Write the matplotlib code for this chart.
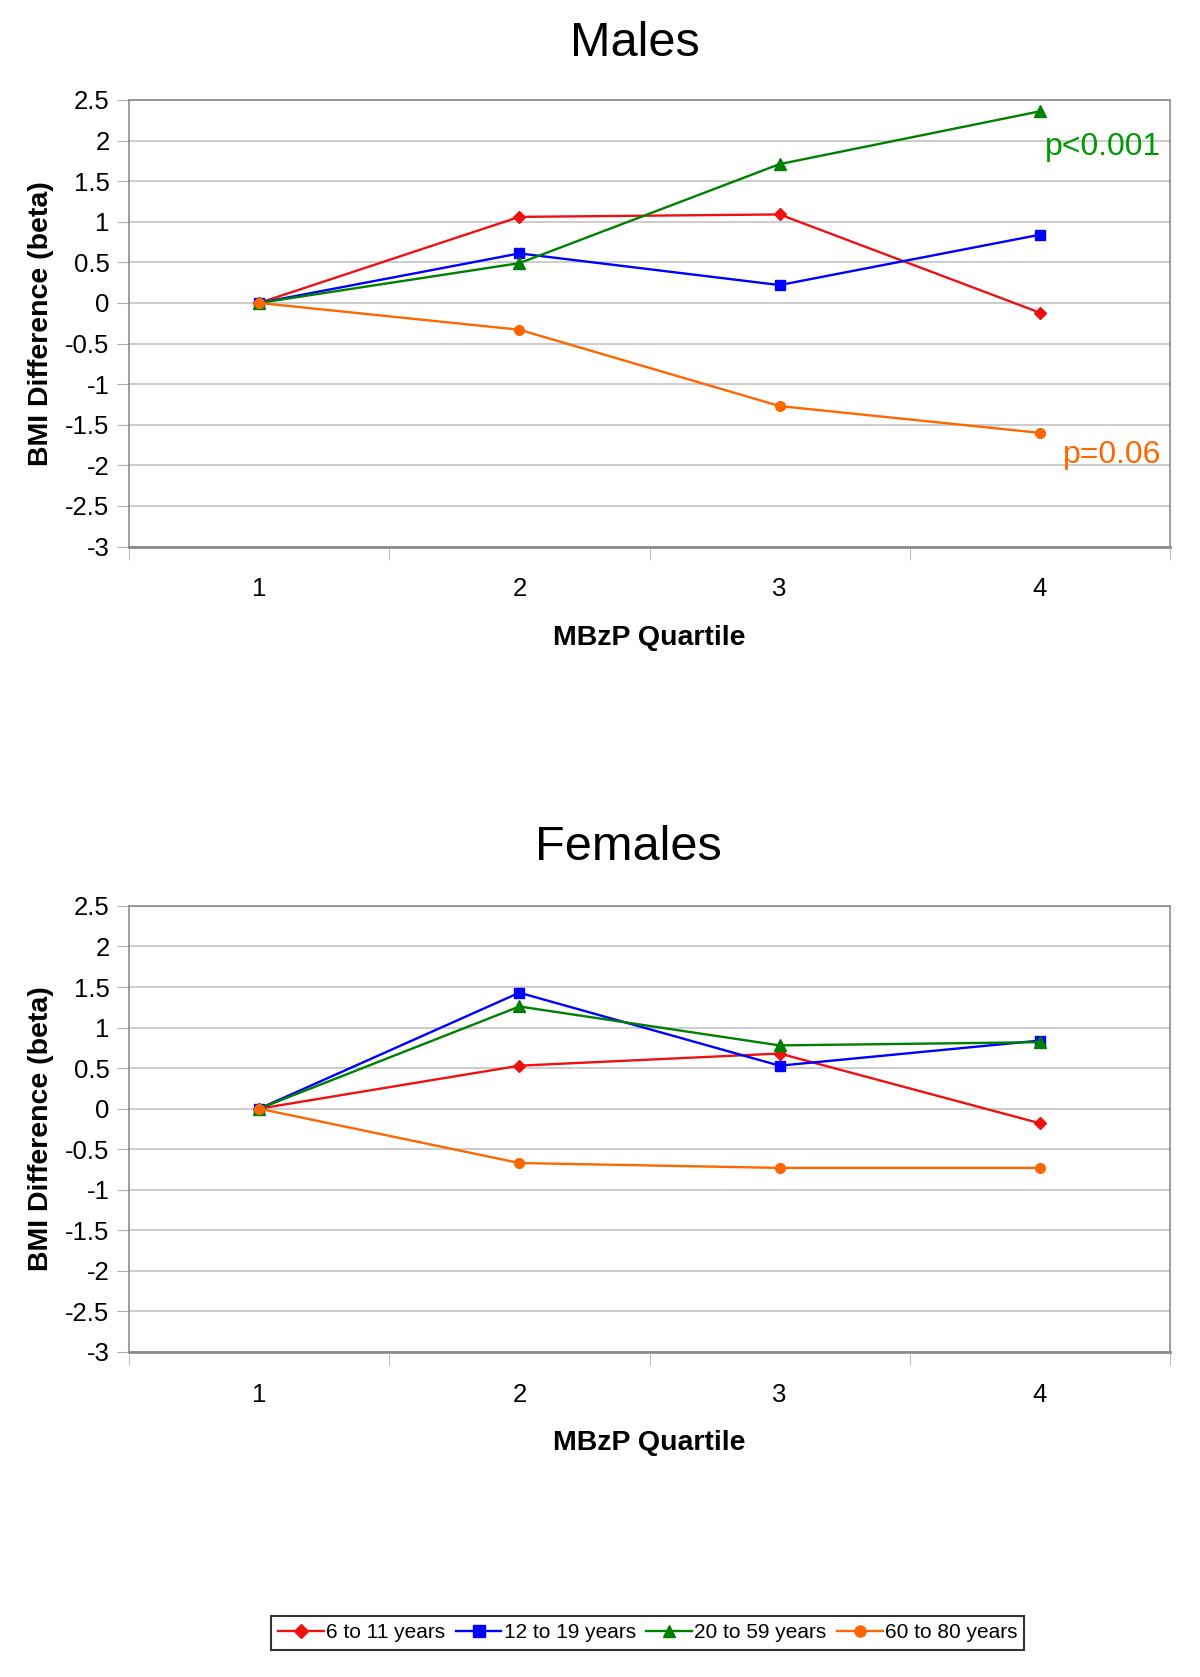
import matplotlib.pyplot as plt
from matplotlib.lines import Line2D

plt.rcParams['font.family'] = ['Liberation Sans', 'DejaVu Sans']

quartiles = [1, 2, 3, 4]
groups = ['6 to 11 years', '12 to 19 years', '20 to 59 years', '60 to 80 years']
colors = ['#ee1111', '#0000ff', '#008000', '#ff6600']
markers = ['D', 's', '^', 'o']
msizes = [6, 7, 8, 7]

males_6_11 = [0, 1.06, 1.09, -0.12]
males_12_19 = [0, 0.61, 0.22, 0.84]
males_20_59 = [0, 0.49, 1.71, 2.36]
males_60_80 = [0, -0.33, -1.27, -1.60]

females_6_11 = [0, 0.53, 0.68, -0.18]
females_12_19 = [0, 1.43, 0.53, 0.84]
females_20_59 = [0, 1.26, 0.78, 0.82]
females_60_80 = [0, -0.67, -0.73, -0.73]

males = [males_6_11, males_12_19, males_20_59, males_60_80]
females = [females_6_11, females_12_19, females_20_59, females_60_80]

yticks = [-3, -2.5, -2, -1.5, -1, -0.5, 0, 0.5, 1, 1.5, 2, 2.5]
ytick_labels = ['-3', '-2.5', '-2', '-1.5', '-1', '-0.5', '0', '0.5', '1', '1.5', '2', '2.5']

fig = plt.figure(figsize=(12, 16.77), dpi=100)
ax_m = fig.add_axes([0.1075, 0.6741, 0.8675, 0.2663])
ax_f = fig.add_axes([0.1075, 0.1938, 0.8675, 0.2660])


def style(ax, series):
    for vals, c, m, ms in zip(series, colors, markers, msizes):
        ax.plot(quartiles, vals, color=c, lw=1.7, marker=m, ms=ms,
                markerfacecolor=c, markeredgecolor=c, zorder=3)
    ax.set_xlim(0.5, 4.5)
    ax.set_ylim(-3, 2.5)
    ax.set_yticks(yticks)
    ax.set_yticklabels(ytick_labels, fontsize=18.5)
    ax.set_xticks(quartiles)
    ax.set_xticklabels([str(q) for q in quartiles], fontsize=18.5)
    ax.set_xticks([0.5, 1.5, 2.5, 3.5, 4.5], minor=True)
    ax.tick_params(axis='x', which='major', length=0, pad=22)
    ax.tick_params(axis='x', which='minor', length=9, color='#b0b0b0', direction='out')
    ax.tick_params(axis='y', length=9, color='#b0b0b0', pad=5)
    ax.grid(axis='y', color='#c4c4c4', lw=1.2, zorder=0)
    for s in ['left', 'right', 'top']:
        ax.spines[s].set_color('#8c8c8c')
        ax.spines[s].set_linewidth(1.2)
    ax.spines['bottom'].set_color('#8c8c8c')
    ax.spines['bottom'].set_linewidth(2.0)
    ax.set_xlabel('MBzP Quartile', fontsize=20.5, fontweight='bold', labelpad=17)
    ax.set_ylabel('BMI Difference (beta)', fontsize=20.5, fontweight='bold', labelpad=8)


style(ax_m, males)
style(ax_f, females)

ax_m.text(4.02, 1.92, 'p<0.001', color='#009900', fontsize=23, va='center', ha='left')
ax_m.text(4.09, -1.87, 'p=0.06', color='#ff6600', fontsize=23, va='center', ha='left')

fig.text(0.529, 1 - 43 / 1677, 'Males', fontsize=35, ha='center', va='center')
fig.text(0.524, 1 - 847 / 1677, 'Females', fontsize=35, ha='center', va='center')

handles = [Line2D([0], [0], color=c, lw=1.7, marker=m, ms=ms + 1, markerfacecolor=c,
                  markeredgecolor=c) for c, m, ms in zip(colors, markers, msizes)]
leg = fig.legend(handles, groups, loc='center', bbox_to_anchor=(0.5397, 1 - 1633 / 1677),
                 ncol=4, frameon=True, fancybox=False, handlelength=2.2,
                 handletextpad=0.1, columnspacing=0.5, borderpad=0.35,
                 prop={'size': 15})
leg.get_frame().set_edgecolor('black')
leg.get_frame().set_linewidth(1.5)

fig.savefig('out.png', dpi=100)
